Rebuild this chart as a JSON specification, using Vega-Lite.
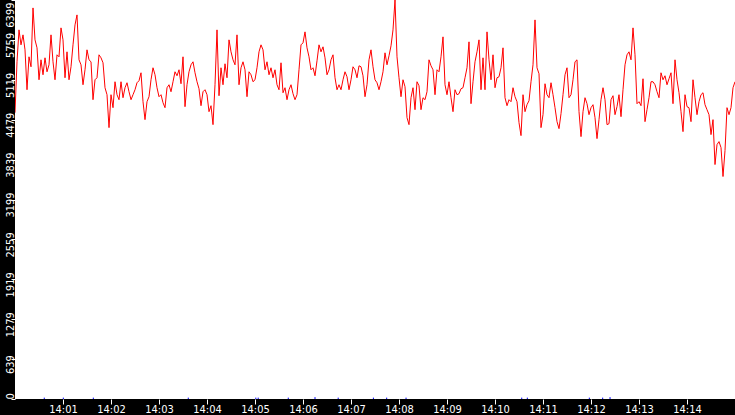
{
  "$schema": "https://vega.github.io/schema/vega-lite/v6.json",
  "description": "Request rate per second, 14:00 to 14:15",
  "autosize": "none",
  "width": 720,
  "height": 399,
  "padding": {"left": 15, "top": 0, "right": 0, "bottom": 16},
  "background": "black",
  "config": {"view": {"fill": "white", "stroke": null}},
  "encoding": {
    "x": {
      "field": "t", "type": "quantitative",
      "scale": {"domain": [0, 900], "nice": false, "zero": false},
      "axis": {
        "title": null, "domain": false, "grid": false,
        "values": [60, 120, 180, 240, 300, 360, 420, 480, 540, 600, 660, 720, 780, 840],
        "labelExpr": "'14:' + (datum.value < 600 ? '0' : '') + (datum.value / 60)",
        "tickColor": "white", "tickSize": 5, "tickWidth": 1,
        "labelColor": "white", "labelFont": "DejaVu Sans Condensed, DejaVu Sans, sans-serif",
        "labelFontSize": 11, "labelPadding": -1, "labelBaseline": "top", "labelAngle": 0,
        "labelAlign": "center", "labelOverlap": false, "labelFlush": false, "labelBound": false
      }
    },
    "y": {
      "field": "v", "type": "quantitative",
      "scale": {"domain": [0, 6399], "nice": false, "zero": true},
      "axis": {
        "title": null, "domain": false, "grid": false,
        "values": [0, 639.9, 1279.8, 1919.7, 2559.6, 3199.5, 3839.4, 4479.3, 5119.2, 5759.1, 6399],
        "labelExpr": "floor(datum.value)",
        "tickColor": "white", "tickSize": 4, "tickWidth": 1,
        "labelColor": "white", "labelFont": "DejaVu Sans Condensed, DejaVu Sans, sans-serif",
        "labelFontSize": 11, "labelPadding": -2, "labelAngle": 270, "labelBaseline": "alphabetic",
        "labelAlign": {"condition": [{"test": "datum.value > 6000", "value": "right"}, {"test": "datum.value < 1", "value": "left"}], "value": "center"},
        "labelOffset": {"condition": [{"test": "datum.value > 6000", "value": 2}, {"test": "datum.value < 1", "value": 0}], "value": 5},
        "labelOverlap": false, "labelFlush": false, "labelBound": false
      }
    }
  },
  "layer": [
    {
      "data": {"values": [
        {"t":0,"v":4592},{"t":2.5,"v":5408},{"t":5,"v":5920},{"t":7.5,"v":5680},{"t":10,"v":5840},{"t":12.5,"v":5600},{"t":15,"v":4960},{"t":17.5,"v":5488},{"t":20,"v":5328},{"t":22.5,"v":6272},
        {"t":25,"v":5760},{"t":27.5,"v":5632},{"t":30,"v":5120},{"t":32.5,"v":5440},{"t":35,"v":5200},{"t":37.5,"v":5472},{"t":40,"v":5248},{"t":42.5,"v":5360},{"t":45,"v":5840},{"t":47.5,"v":5408},
        {"t":50,"v":5120},{"t":52.5,"v":5520},{"t":55,"v":5488},{"t":57.5,"v":5952},{"t":60,"v":5760},{"t":62.5,"v":5152},{"t":65,"v":5568},{"t":67.5,"v":5120},{"t":70,"v":5328},{"t":72.5,"v":5680},
        {"t":75,"v":6000},{"t":77.5,"v":6160},{"t":80,"v":5440},{"t":82.5,"v":5360},{"t":85,"v":5040},{"t":87.5,"v":5280},{"t":90,"v":5600},{"t":92.5,"v":5440},{"t":95,"v":5408},{"t":97.5,"v":4800},
        {"t":100,"v":5120},{"t":102.5,"v":5152},{"t":105,"v":5520},{"t":107.5,"v":5472},{"t":110,"v":5392},{"t":112.5,"v":4992},{"t":115,"v":4880},{"t":117.5,"v":4352},{"t":120,"v":4880},{"t":122.5,"v":4672},
        {"t":125,"v":5088},{"t":127.5,"v":4880},{"t":130,"v":4800},{"t":132.5,"v":5088},{"t":135,"v":4832},{"t":137.5,"v":4992},{"t":140,"v":5072},{"t":142.5,"v":4928},{"t":145,"v":4800},{"t":147.5,"v":4880},
        {"t":150,"v":4960},{"t":152.5,"v":5072},{"t":155,"v":5104},{"t":157.5,"v":5232},{"t":160,"v":4768},{"t":162.5,"v":4480},{"t":165,"v":4768},{"t":167.5,"v":4848},{"t":170,"v":5120},{"t":172.5,"v":5312},
        {"t":175,"v":5200},{"t":177.5,"v":4992},{"t":180,"v":4848},{"t":182.5,"v":4880},{"t":185,"v":4752},{"t":187.5,"v":4672},{"t":190,"v":4992},{"t":192.5,"v":5040},{"t":195,"v":4928},{"t":197.5,"v":5088},
        {"t":200,"v":5248},{"t":202.5,"v":5184},{"t":205,"v":5280},{"t":207.5,"v":5056},{"t":210,"v":5488},{"t":212.5,"v":4688},{"t":215,"v":5040},{"t":217.5,"v":5248},{"t":220,"v":5360},{"t":222.5,"v":5408},
        {"t":225,"v":5232},{"t":227.5,"v":5088},{"t":230,"v":4976},{"t":232.5,"v":4704},{"t":235,"v":4928},{"t":237.5,"v":4960},{"t":240,"v":4880},{"t":242.5,"v":4608},{"t":245,"v":4704},{"t":247.5,"v":4400},
        {"t":250,"v":5040},{"t":252.5,"v":5920},{"t":255,"v":4864},{"t":257.5,"v":5312},{"t":260,"v":5040},{"t":262.5,"v":5376},{"t":265,"v":5152},{"t":267.5,"v":5760},{"t":270,"v":5568},{"t":272.5,"v":5440},
        {"t":275,"v":5360},{"t":277.5,"v":5840},{"t":280,"v":5040},{"t":282.5,"v":5312},{"t":285,"v":5408},{"t":287.5,"v":5280},{"t":290,"v":4848},{"t":292.5,"v":5248},{"t":295,"v":5200},{"t":297.5,"v":5088},
        {"t":300,"v":5120},{"t":302.5,"v":5312},{"t":305,"v":5568},{"t":307.5,"v":5680},{"t":310,"v":5600},{"t":312.5,"v":5280},{"t":315,"v":5408},{"t":317.5,"v":5200},{"t":320,"v":5312},{"t":322.5,"v":5152},
        {"t":325,"v":5280},{"t":327.5,"v":5040},{"t":330,"v":4960},{"t":332.5,"v":5392},{"t":335,"v":4912},{"t":337.5,"v":4992},{"t":340,"v":4800},{"t":342.5,"v":4960},{"t":345,"v":5040},{"t":347.5,"v":4896},
        {"t":350,"v":4800},{"t":352.5,"v":4880},{"t":355,"v":5280},{"t":357.5,"v":5680},{"t":360,"v":5712},{"t":362.5,"v":5888},{"t":365,"v":5632},{"t":367.5,"v":5488},{"t":370,"v":5280},{"t":372.5,"v":5312},
        {"t":375,"v":5184},{"t":377.5,"v":5424},{"t":380,"v":5680},{"t":382.5,"v":5568},{"t":385,"v":5648},{"t":387.5,"v":5472},{"t":390,"v":5200},{"t":392.5,"v":5280},{"t":395,"v":5440},{"t":397.5,"v":5520},
        {"t":400,"v":5152},{"t":402.5,"v":4960},{"t":405,"v":5040},{"t":407.5,"v":4960},{"t":410,"v":5120},{"t":412.5,"v":5248},{"t":415,"v":5168},{"t":417.5,"v":4960},{"t":420,"v":5120},{"t":422.5,"v":5328},
        {"t":425,"v":5280},{"t":427.5,"v":5152},{"t":430,"v":5344},{"t":432.5,"v":5328},{"t":435,"v":5184},{"t":437.5,"v":4848},{"t":440,"v":5040},{"t":442.5,"v":5440},{"t":445,"v":5600},{"t":447.5,"v":5328},
        {"t":450,"v":5120},{"t":452.5,"v":5072},{"t":455,"v":4960},{"t":457.5,"v":5088},{"t":460,"v":5248},{"t":462.5,"v":5552},{"t":465,"v":5360},{"t":467.5,"v":5504},{"t":470,"v":5664},{"t":472.5,"v":5920},
        {"t":475,"v":6399},{"t":477.5,"v":5488},{"t":480,"v":5152},{"t":482.5,"v":4848},{"t":485,"v":5120},{"t":487.5,"v":5008},{"t":490,"v":4512},{"t":492.5,"v":4400},{"t":495,"v":4832},{"t":497.5,"v":4992},
        {"t":500,"v":4640},{"t":502.5,"v":5088},{"t":505,"v":5024},{"t":507.5,"v":4640},{"t":510,"v":4832},{"t":512.5,"v":4800},{"t":515,"v":4928},{"t":517.5,"v":5440},{"t":520,"v":5344},{"t":522.5,"v":5280},
        {"t":525,"v":4880},{"t":527.5,"v":5280},{"t":530,"v":5248},{"t":532.5,"v":5488},{"t":535,"v":5808},{"t":537.5,"v":5040},{"t":540,"v":4880},{"t":542.5,"v":5088},{"t":545,"v":4832},{"t":547.5,"v":4608},
        {"t":550,"v":4960},{"t":552.5,"v":4880},{"t":555,"v":4896},{"t":557.5,"v":4976},{"t":560,"v":4992},{"t":562.5,"v":5152},{"t":565,"v":5312},{"t":567.5,"v":5728},{"t":570,"v":4736},{"t":572.5,"v":5088},
        {"t":575,"v":5408},{"t":577.5,"v":5568},{"t":580,"v":5760},{"t":582.5,"v":4960},{"t":585,"v":5472},{"t":587.5,"v":4960},{"t":590,"v":5888},{"t":592.5,"v":5440},{"t":595,"v":5120},{"t":597.5,"v":5520},
        {"t":600,"v":4992},{"t":602.5,"v":5152},{"t":605,"v":5168},{"t":607.5,"v":5312},{"t":610,"v":5632},{"t":612.5,"v":4832},{"t":615,"v":4704},{"t":617.5,"v":4800},{"t":620,"v":4768},{"t":622.5,"v":4992},
        {"t":625,"v":4848},{"t":627.5,"v":4768},{"t":630,"v":4432},{"t":632.5,"v":4224},{"t":635,"v":4880},{"t":637.5,"v":4608},{"t":640,"v":4720},{"t":642.5,"v":4784},{"t":645,"v":5088},{"t":647.5,"v":5360},
        {"t":650,"v":6080},{"t":652.5,"v":5312},{"t":655,"v":5216},{"t":657.5,"v":4352},{"t":660,"v":4560},{"t":662.5,"v":5056},{"t":665,"v":4880},{"t":667.5,"v":4832},{"t":670,"v":5072},{"t":672.5,"v":4880},
        {"t":675,"v":4672},{"t":677.5,"v":4448},{"t":680,"v":4336},{"t":682.5,"v":4576},{"t":685,"v":4880},{"t":687.5,"v":5200},{"t":690,"v":5312},{"t":692.5,"v":4832},{"t":695,"v":4880},{"t":697.5,"v":5120},
        {"t":700,"v":5408},{"t":702.5,"v":5440},{"t":705,"v":4608},{"t":707.5,"v":4208},{"t":710,"v":4608},{"t":712.5,"v":4832},{"t":715,"v":4736},{"t":717.5,"v":4560},{"t":720,"v":4672},{"t":722.5,"v":4720},
        {"t":725,"v":4512},{"t":727.5,"v":4176},{"t":730,"v":4480},{"t":732.5,"v":4800},{"t":735,"v":4992},{"t":737.5,"v":4800},{"t":740,"v":4400},{"t":742.5,"v":4416},{"t":745,"v":4800},{"t":747.5,"v":4864},
        {"t":750,"v":4560},{"t":752.5,"v":4688},{"t":755,"v":4880},{"t":757.5,"v":4528},{"t":760,"v":4960},{"t":762.5,"v":5360},{"t":765,"v":5520},{"t":767.5,"v":5568},{"t":770,"v":5440},{"t":772.5,"v":5952},
        {"t":775,"v":5520},{"t":777.5,"v":4736},{"t":780,"v":4768},{"t":782.5,"v":4704},{"t":785,"v":5136},{"t":787.5,"v":4448},{"t":790,"v":4640},{"t":792.5,"v":4832},{"t":795,"v":5088},{"t":797.5,"v":5088},
        {"t":800,"v":5040},{"t":802.5,"v":4928},{"t":805,"v":4832},{"t":807.5,"v":5232},{"t":810,"v":5120},{"t":812.5,"v":5184},{"t":815,"v":5040},{"t":817.5,"v":5136},{"t":820,"v":5232},{"t":822.5,"v":4736},
        {"t":825,"v":5440},{"t":827.5,"v":5120},{"t":830,"v":4912},{"t":832.5,"v":4608},{"t":835,"v":4288},{"t":837.5,"v":4880},{"t":840,"v":4688},{"t":842.5,"v":4672},{"t":845,"v":4448},{"t":847.5,"v":5120},
        {"t":850,"v":4832},{"t":852.5,"v":4560},{"t":855,"v":4768},{"t":857.5,"v":4880},{"t":860,"v":4912},{"t":862.5,"v":4720},{"t":865,"v":4640},{"t":867.5,"v":4560},{"t":870,"v":4240},{"t":872.5,"v":4480},
        {"t":875,"v":3760},{"t":877.5,"v":4080},{"t":880,"v":4128},{"t":882.5,"v":4032},{"t":885,"v":3568},{"t":887.5,"v":3984},{"t":890,"v":4672},{"t":892.5,"v":4560},{"t":895,"v":4672},{"t":897.5,"v":4992},
        {"t":900,"v":5088}
      ]},
      "mark": {"type": "line", "color": "#ff0000", "strokeWidth": 1, "interpolate": "linear", "clip": true}
    },
    {
      "data": {"values": [
        {"t":36.6,"v":22},{"t":60.4,"v":22},{"t":97.9,"v":22},{"t":216.6,"v":22},{"t":301,"v":22},{"t":304,"v":22},
        {"t":341.6,"v":22},{"t":375,"v":30},{"t":404,"v":22},{"t":448,"v":22},{"t":464.6,"v":22},{"t":488.8,"v":22},
        {"t":633.4,"v":22},{"t":640.4,"v":22},{"t":717.9,"v":22},{"t":734.6,"v":22},{"t":743.8,"v":30}
      ]},
      "mark": {"type": "rule", "color": "#0000ff", "strokeWidth": 1},
      "encoding": {"y2": {"datum": 0}}
    }
  ]
}
